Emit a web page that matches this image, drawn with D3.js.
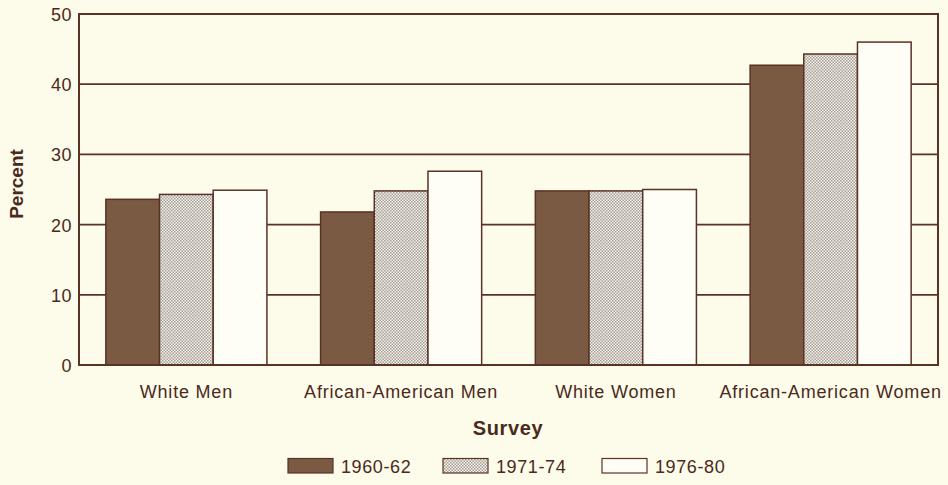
<!DOCTYPE html>
<html><head><meta charset="utf-8">
<script src="https://cdn.jsdelivr.net/npm/d3@7"></script>
<style>
html,body{margin:0;padding:0;background:#fdfbe9;}
svg{display:block;font-family:"Liberation Sans",Arial,Helvetica,sans-serif;}
</style></head>
<body>
<svg id="chart" width="948" height="485"></svg>
<script>
const categories = ["White Men","African-American Men","White Women","African-American Women"];
const seriesNames = ["1960-62","1971-74","1976-80"];
const s1960 = [23.6, 21.8, 24.8, 42.7];
const s1971 = [24.3, 24.8, 24.8, 44.3];
const s1976 = [24.9, 27.6, 25.0, 46.0];
const yTicks = [0,10,20,30,40,50];
const seriesValues = [s1960, s1971, s1976];

(function(){
const ink = "#5a3326";
const textCol = "#4a2a20";
const bg = "#fdfbe9";
const dark = "#7b5a43";

const svg = d3.select("#chart");
svg.append("rect").attr("width",948).attr("height",485).attr("fill",bg);

const defs = svg.append("defs");
const pat = defs.append("pattern").attr("id","dots").attr("patternUnits","userSpaceOnUse")
  .attr("width",3).attr("height",3);
pat.append("rect").attr("width",3).attr("height",3).attr("fill","#f8f6ee");
pat.append("rect").attr("x",0).attr("y",0).attr("width",1.5).attr("height",1.5).attr("fill","#a29a93");
pat.append("rect").attr("x",1.5).attr("y",1.5).attr("width",1.5).attr("height",1.5).attr("fill","#a29a93");

const fills = [dark, "url(#dots)", "#fffef6"];

const pL = 79, pR = 938, pT = 14, pB = 365;
const x = d3.scaleBand().domain(categories).range([pL,pR]).paddingInner(0.25).paddingOuter(0.125);
const xs = d3.scaleBand().domain(seriesNames).range([0,x.bandwidth()]).padding(0);
const y = d3.scaleLinear().domain([0,50]).range([pB,pT]);

// gridlines
svg.append("g").selectAll("line").data(yTicks.filter(t=>t>0 && t<50)).join("line")
  .attr("x1",pL).attr("x2",pR).attr("y1",d=>y(d)).attr("y2",d=>y(d))
  .attr("stroke",ink).attr("stroke-width",1.8);

// bars
const g = svg.append("g");
categories.forEach((c,i)=>{
  seriesNames.forEach((s,j)=>{
    const v = seriesValues[j][i];
    g.append("rect")
      .attr("x", x(c)+xs(s)).attr("y", y(v))
      .attr("width", xs.bandwidth()).attr("height", y(0)-y(v))
      .attr("fill", fills[j]).attr("stroke", ink).attr("stroke-width",1.5);
  });
});

// frame
svg.append("rect").attr("x",pL).attr("y",pT).attr("width",pR-pL).attr("height",pB-pT)
  .attr("fill","none").attr("stroke",ink).attr("stroke-width",2);

// y axis
const yAxis = d3.axisLeft(y).tickValues(yTicks).tickSize(0).tickPadding(7);
const ya = svg.append("g").attr("transform",`translate(${pL},0)`).call(yAxis);
ya.select(".domain").remove();
ya.selectAll("text").attr("fill",textCol).style("font-size","18px").style("letter-spacing","0.5px").attr("dy","0.36em");

// x axis
const xAxis = d3.axisBottom(x).tickSize(0).tickPadding(20);
const xa = svg.append("g").attr("transform",`translate(0,${pB})`).call(xAxis);
xa.select(".domain").remove();
xa.selectAll("text").attr("fill",textCol).style("font-size","18px").style("letter-spacing","0.8px");

// axis titles
svg.append("text").attr("transform","translate(23,184) rotate(-90)").attr("text-anchor","middle")
  .attr("fill",textCol).style("font-size","19px").style("font-weight","bold").text("Percent");
svg.append("text").attr("x",508).attr("y",435).attr("text-anchor","middle")
  .attr("fill",textCol).style("font-size","20px").style("font-weight","bold").style("letter-spacing","0.6px").text("Survey");

// legend
const legX = [288, 443, 602];
seriesNames.forEach((s,j)=>{
  svg.append("rect").attr("x",legX[j]).attr("y",458.5).attr("width",45).attr("height",14.5)
    .attr("fill",fills[j]).attr("stroke",ink).attr("stroke-width",1.2);
  svg.append("text").attr("x",legX[j]+53).attr("y",473).attr("fill",textCol)
    .style("font-size","18px").style("letter-spacing","0.6px").text(s);
});
})();
</script>
</body></html>
